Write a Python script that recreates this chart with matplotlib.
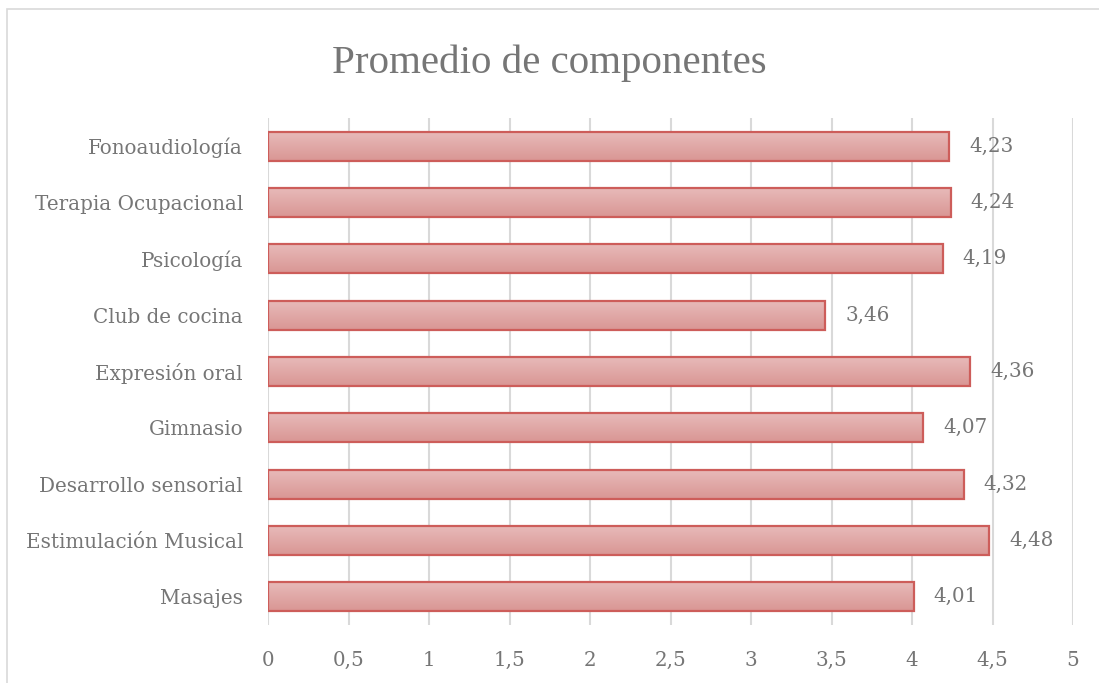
import matplotlib
matplotlib.use("Agg")
import matplotlib.pyplot as plt
import numpy as np
from matplotlib.colors import LinearSegmentedColormap
from matplotlib.patches import Rectangle

categories = ["Masajes", "Estimulación Musical", "Desarrollo sensorial", "Gimnasio",
              "Expresión oral", "Club de cocina", "Psicología", "Terapia Ocupacional",
              "Fonoaudiología"]
values = [4.01, 4.48, 4.32, 4.07, 4.36, 3.46, 4.19, 4.24, 4.23]
xticks = [0, 0.5, 1, 1.5, 2, 2.5, 3, 3.5, 4, 4.5, 5]
title = "Promedio de componentes"

plt.rcParams['font.family'] = ['DejaVu Serif']
fig = plt.figure(figsize=(10.99, 6.83), dpi=100)
W, H = 1099, 683
ax = fig.add_axes([268 / W, (H - 625) / H, (1073 - 268) / W, 507 / H])

# chart border
fig.patches.append(Rectangle((7 / W, -0.1), 1.2, (H - 9) / H + 0.1, transform=fig.transFigure,
                             fill=False, edgecolor="#d9d9d9", linewidth=1.2, zorder=0))

cmap = LinearSegmentedColormap.from_list("g", ["#e8bbba", "#d99694"])
grad = np.linspace(0, 1, 64).reshape(-1, 1)
bh = 0.52
ypos = np.arange(len(categories))
FS = 14.3
for y, v in zip(ypos, values):
    ax.imshow(grad, cmap=cmap, extent=(0, v, y - bh / 2, y + bh / 2), aspect="auto",
              zorder=2, interpolation="bilinear", origin="upper")
    ax.add_patch(Rectangle((0, y - bh / 2), v, bh, fill=False, edgecolor="#cd5d5a",
                           linewidth=1.6, zorder=3))
    ax.annotate(f"{v:.2f}".replace(".", ","), xy=(v, y), xytext=(20, 0),
                textcoords="offset pixels",
                va="center", ha="left", fontsize=FS, color="#767676")

ax.set_xlim(0, 5)
ax.set_ylim(-0.5, len(categories) - 0.5)
ax.set_xticks(xticks)
ax.set_xticklabels([str(t).replace(".", ",") if t != int(t) else str(int(t)) for t in xticks])
ax.set_yticks(ypos)
ax.set_yticklabels(categories)
ax.tick_params(axis="both", length=0, labelsize=FS, labelcolor="#767676")
ax.tick_params(axis="x", pad=19)
ax.tick_params(axis="y", pad=18)
ax.grid(axis="x", color="#d9d9d9", linewidth=1.5, zorder=0)
ax.set_axisbelow(True)
for s in ax.spines.values():
    s.set_visible(False)

fig.text(549 / W, (H - 63) / H, title, ha="center", va="center", fontsize=29.5,
         color="#767676", family="Liberation Serif")

fig.savefig("out.png", dpi=100)
